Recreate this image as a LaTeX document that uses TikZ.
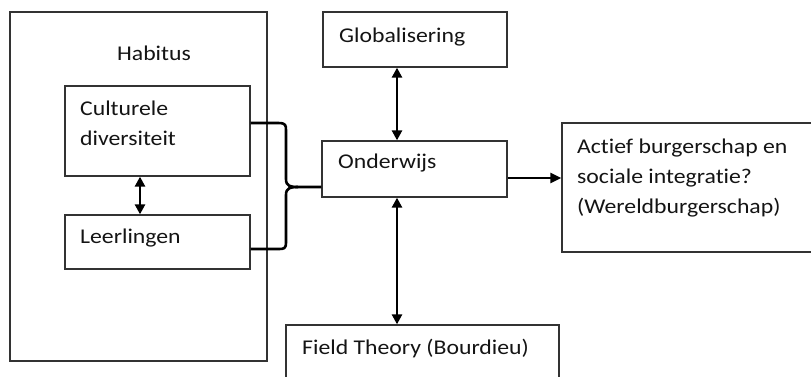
\documentclass[tikz,border=0pt]{standalone}
\usepackage{fontspec}
\setmainfont[FakeStretch=1.13,Ligatures=NoCommon]{Carlito}
\usetikzlibrary{arrows.meta}
\definecolor{boxline}{HTML}{333333}
\definecolor{txt}{HTML}{141414}
\tikzset{
  box/.style={draw=boxline, line width=1.3pt, rectangle, inner sep=0pt},
  lbl/.style={anchor=base west, inner sep=0pt, text=txt, font=\fontsize{21}{30}\selectfont},
  clbl/.style={anchor=base, inner sep=0pt, text=txt, font=\fontsize{21}{30}\selectfont},
  arr/.style={line width=2.6pt, draw=black, {Triangle[length=10pt,width=10pt]}-{Triangle[length=10pt,width=10pt]}},
  sarr/.style={line width=2.6pt, draw=black, -{Triangle[length=11pt,width=10pt]}},
  brace/.style={line width=2.6pt, draw=black, line join=round}
}
\begin{document}
\begin{tikzpicture}[x=1pt,y=-1pt]
\useasboundingbox (0,0) rectangle (811,376);
\clip (0,0) rectangle (811,376);
\fill[white] (0,0) rectangle (811,376);
% boxes
\node[box, minimum width=257pt, minimum height=349pt] (habitus) at (138.5,186.5) {};
\node[box, minimum width=185pt, minimum height=90pt] (cult) at (157.5,131) {};
\node[box, minimum width=185pt, minimum height=54pt] (leer) at (157.5,242) {};
\node[box, minimum width=184pt, minimum height=55pt] (glob) at (415,39.5) {};
\node[box, minimum width=185pt, minimum height=56pt] (onder) at (414.5,169) {};
\node[box, minimum width=273pt, minimum height=70pt] (field) at (422.5,360) {};
\node[box, minimum width=270pt, minimum height=129pt] (actief) at (697,187.5) {};
% texts
\node[clbl] (thab) at (154,60) {Habitus};
\node[lbl] (tcult1) at (80,115) {Culturele};
\node[lbl] (tcult2) at (80,145) {diversiteit};
\node[lbl] (tleer) at (80,243) {Leerlingen};
\node[lbl] (tglob) at (339,42) {Globalisering};
\node[lbl] (tonder) at (338,168) {Onderwijs};
\node[lbl] (tfield) at (302,354) {Field Theory (Bourdieu)};
\node[lbl] (tact1) at (577,153) {Actief burgerschap en};
\node[lbl] (tact2) at (577,183) {sociale integrat\kern0pt ie?};
\node[lbl] (tact3) at (577,213) {(Wereldburgerschap)};
% connectors
\draw[arr] ([xshift=-17.5pt]cult.south) -- ([xshift=-17.5pt]leer.north);
\draw[arr] ([xshift=-18pt]glob.south) -- ([xshift=-17.5pt]onder.north);
\draw[arr] ([xshift=-17.5pt]onder.south) -- ([xshift=-17.5pt]onder.south |- field.north);
\draw[sarr] ([yshift=-9pt]onder.east) -- ([yshift=-9pt]onder.east -| actief.west);
% brace
\coordinate (btip) at (298,187);
\draw[brace] ([yshift=8pt]cult.east) -- (278,123) .. controls (286,123) and (286,125) .. (286,131)
  -- (286,179) .. controls (286,186) and (290,187) .. (btip) -- (onder.west |- btip);
\draw[brace] (btip) .. controls (290,187) and (286,188) .. (286,195)
  -- (286,242) .. controls (286,249) and (284,249) .. (278,249) -- ([yshift=-7pt]leer.east);
\end{tikzpicture}
\end{document}
